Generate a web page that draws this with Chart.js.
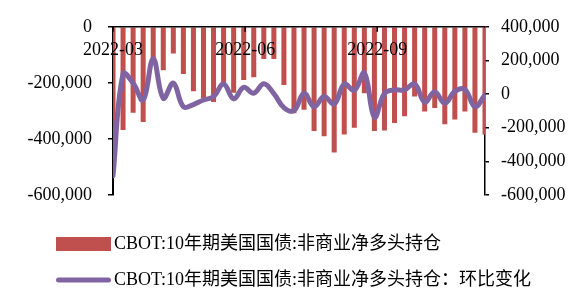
<!DOCTYPE html>
<html><head><meta charset="utf-8">
<script src="https://cdn.jsdelivr.net/npm/chart.js@4/dist/chart.umd.min.js"></script>
<style>html,body{margin:0;padding:0;background:#fff;}</style>
</head><body>
<canvas id="c" width="573" height="289"></canvas>
<script>
const dates = ['2022-03-01','2022-03-08','2022-03-15','2022-03-22','2022-03-29','2022-04-05','2022-04-12','2022-04-19','2022-04-26','2022-05-03','2022-05-10','2022-05-17','2022-05-24','2022-05-31','2022-06-07','2022-06-14','2022-06-21','2022-06-28','2022-07-05','2022-07-12','2022-07-19','2022-07-26','2022-08-02','2022-08-09','2022-08-16','2022-08-23','2022-08-30','2022-09-06','2022-09-13','2022-09-20','2022-09-27','2022-10-04','2022-10-11','2022-10-18','2022-10-25','2022-11-01','2022-11-08','2022-11-15'];
const netLong = [-485000,-368000,-307000,-340000,-130000,-155000,-95000,-168000,-230000,-255000,-268000,-207000,-235000,-190000,-180000,-115000,-115000,-208000,-308000,-296000,-372000,-390000,-448000,-384000,-360000,-237000,-372000,-370000,-343000,-319000,-249000,-302000,-290000,-348000,-331000,-302000,-378000,-384000];
const weeklyChange = [-485000,120000,65000,-35000,210000,-25000,65000,-75000,-62000,-35000,-15000,60000,-28000,40000,5000,62000,3000,-80000,-98000,5000,-75000,-15000,-60000,60000,22000,125000,-138000,4000,25000,25000,60000,-48000,14000,-55000,16000,28000,-75000,-5000];
const xTickDates = ['2022-03-01','2022-06-01','2022-09-01'];
const xTickLabels = ['2022-03','2022-06','2022-09'];
const leftTickValues = [0,-200000,-400000,-600000];
const rightTickValues = [400000,200000,0,-200000,-400000,-600000];
const seriesNames = ['CBOT:10年期美国国债:非商业净多头持仓','CBOT:10年期美国国债:非商业净多头持仓：环比变化'];

const FONT = '"Liberation Serif", "Noto Sans CJK SC", serif';
const t0 = Date.parse(dates[0]);
const day = d => (Date.parse(d) - t0) / 86400000;
const fmt = v => (v < 0 ? '-' : '') + String(Math.abs(v)).replace(/\B(?=(\d{3})+(?!\d))/g, ',');

function mkIcon(kind){
  const c = document.createElement('canvas');
  c.width = 99;
  const g = c.getContext('2d');
  if (kind === 'box'){
    c.height = 14;
    g.fillStyle = '#C0504D';
    g.fillRect(44,0,55,14);
  } else {
    c.height = 6;
    g.strokeStyle = '#8064A2'; g.lineWidth = 5; g.lineCap = 'round';
    g.beginPath(); g.moveTo(46.5,3); g.lineTo(96.5,3); g.stroke();
  }
  return c;
}
const legendIcons = [mkIcon('box'), mkIcon('line')];

const topAxis = {
  id:'topAxis',
  afterDatasetsDraw(chart){
    const {ctx, chartArea:a, scales:{x}} = chart;
    ctx.save();
    ctx.strokeStyle = '#000'; ctx.lineWidth = 1.5;
    ctx.beginPath(); ctx.moveTo(a.left, a.top); ctx.lineTo(a.right, a.top); ctx.stroke();
    ctx.font = '18px ' + FONT; ctx.fillStyle = '#000';
    ctx.textAlign = 'center'; ctx.textBaseline = 'middle';
    xTickDates.forEach((d,i)=>{
      const px = x.getPixelForValue(day(d));
      ctx.beginPath(); ctx.moveTo(px, a.top); ctx.lineTo(px, a.top + 5); ctx.stroke();
      ctx.fillText(xTickLabels[i], px, a.top + 23);
    });
    ctx.restore();
  }
};
const legendFix = {
  id:'legendFix',
  beforeLayout(chart){
    const lg = chart.legend;
    if (lg && !lg.__p){
      const f = lg.fit;
      lg.fit = function(){ f.call(this); this.height = 94; };
      lg.__p = true;
    }
  }
};

new Chart(document.getElementById('c'), {
  type: 'bar',
  data: {
    datasets: [
      { type:'bar', label: seriesNames[0], data: dates.map((d,i)=>({x:day(d), y:netLong[i]})),
        backgroundColor:'#C0504D', borderWidth:0, yAxisID:'yL', order:1,
        categoryPercentage:1, barPercentage:0.5 },
      { type:'line', label: seriesNames[1], data: dates.map((d,i)=>({x:day(d), y:weeklyChange[i]})),
        borderColor:'#8064A2', backgroundColor:'#8064A2', borderWidth:5, pointRadius:0, tension:0.4,
        borderCapStyle:'round', borderJoinStyle:'round', fill:false, yAxisID:'yR', order:0 }
    ]
  },
  options: {
    responsive:false, animation:false, devicePixelRatio:1,
    layout:{ padding:{ top:24, left:0, right:0, bottom:0 } },
    font:{ family: FONT },
    scales: {
      x: { type:'linear', display:false, min:0, max:day(dates[dates.length-1]), offset:false },
      yL: { position:'left', min:-600000, max:0,
        afterBuildTicks(s){ s.ticks = leftTickValues.map(v=>({value:v})); },
        afterFit(s){ s.width = 113; },
        ticks:{ color:'#000', padding:16, font:{family:FONT, size:18}, callback:v=>fmt(v) },
        grid:{ drawOnChartArea:false, drawTicks:true, tickLength:5, color:'#000', lineWidth:1.5 },
        border:{ color:'#000', width:2 } },
      yR: { position:'right', min:-600000, max:400000,
        afterBuildTicks(s){ s.ticks = rightTickValues.map(v=>({value:v})); },
        afterFit(s){ s.width = 88; },
        ticks:{ color:'#000', padding:12, font:{family:FONT, size:18}, callback:v=>fmt(v) },
        grid:{ drawOnChartArea:false, drawTicks:true, tickLength:4, color:'#000', lineWidth:1.5 },
        border:{ color:'#000', width:1.5 } }
    },
    plugins: {
      tooltip:{ enabled:false },
      legend: {
        position:'bottom', align:'start',
        title:{ display:true, text:' ', font:{size:10}, padding:{top:10, bottom:0} },
        labels:{
          font:{ family:FONT, size:18 }, color:'#000', padding:18,
          usePointStyle:true, pointStyleWidth:87, boxHeight:14,
          sort:(a,b)=>a.datasetIndex-b.datasetIndex,
          generateLabels(chart){
            const items = Chart.defaults.plugins.legend.labels.generateLabels(chart);
            items.forEach(it=>{ it.pointStyle = legendIcons[it.datasetIndex]; });
            return items;
          }
        }
      }
    }
  },
  plugins:[topAxis, legendFix]
});
</script>
</body></html>
